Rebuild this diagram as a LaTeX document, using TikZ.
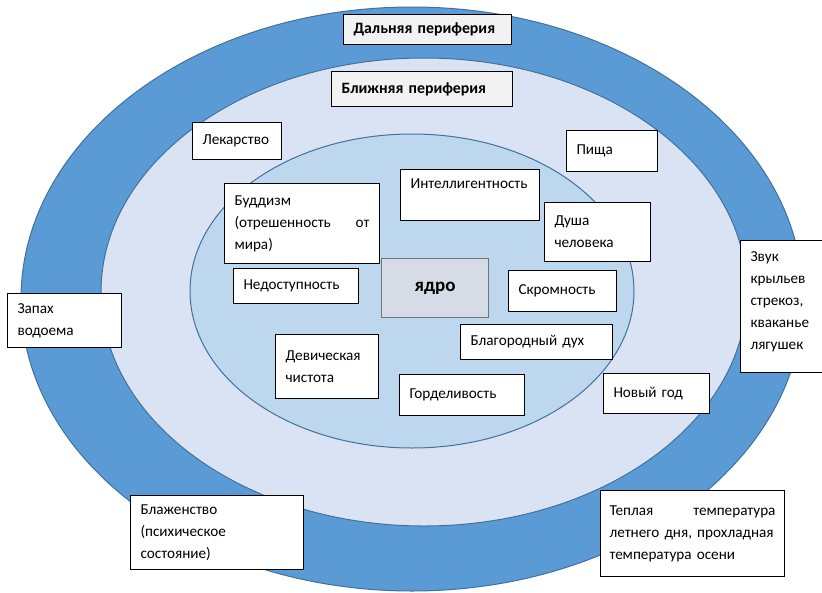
\documentclass[tikz,border=0pt]{standalone}
\usepackage{fontspec}
\setmainfont{Carlito}
\definecolor{farBlue}{HTML}{5B9BD5}
\definecolor{nearBlue}{HTML}{DAE3F3}
\definecolor{coreBlue}{HTML}{BDD7EE}
\definecolor{rimBlue}{HTML}{41719C}
\definecolor{titleGray}{HTML}{F2F2F2}
\definecolor{kernelGray}{HTML}{D6DCE5}
\tikzset{Zone/.style={%
    draw=rimBlue,%
    line width=1pt,%
}}
\tikzset{Term/.style={%
    shape=rectangle,%
    draw=black,%
    fill=white,%
    line width=1pt,%
    inner xsep=10pt,%
    inner ysep=0pt,%
    anchor=north west,%
    align=left,%
    font=\fontsize{15.2}{22}\selectfont,%
}}
\tikzset{Title/.style={%
    Term,%
    fill=titleGray,%
    font=\fontsize{15.8}{22}\selectfont\bfseries,%
}}
\tikzset{Core/.style={%
    Term,%
    draw=black!55,%
    fill=kernelGray,%
    align=center,%
    font=\fontsize{19}{22}\selectfont\bfseries,%
}}

\begin{document}
\begin{tikzpicture}[x=1pt, y=-1pt]
    \useasboundingbox (0,0) rectangle (822,592);

    % three zones
    \draw[Zone, fill=farBlue] (412,299) ellipse [x radius=391pt, y radius=292pt];
    \draw[Zone, fill=nearBlue] (424,292) ellipse [x radius=323pt, y radius=234pt];
    \draw[Zone, fill=coreBlue] (412,291) ellipse [x radius=222pt, y radius=157pt];

    % zone titles
    \node[Title, text width=148pt, minimum height=30pt] (farTitle) at (343,14) {Дальняя периферия};
    \node[Title, text width=161pt, minimum height=35pt] (nearTitle) at (331,71) {Ближняя периферия};

    % core
    \node[Core, text width=87pt, minimum height=59pt] (core) at (381,258) {ядро};
    \node[Term, text width=119pt, minimum height=51pt, text depth=22pt] (intellect) at (400,169) {Интеллигентность};
    \node[Term, text width=135pt, minimum height=80pt] (buddhism) at (224,183) {Буддизм\\(отрешенность\hfill от\\мира)};
    \node[Term, text width=86pt, minimum height=59pt] (soul) at (544,202) {Душа\\человека};
    \node[Term, text width=105pt, minimum height=35pt] (remote) at (233,268) {Недоступность};
    \node[Term, text width=88pt, minimum height=41pt] (modesty) at (508,270) {Скромность};
    \node[Term, text width=132pt, minimum height=35pt] (noble) at (460,324) {Благородный дух};
    \node[Term, text width=83pt, minimum height=64pt] (purity) at (275,334) {Девическая\\чистота};
    \node[Term, text width=105pt, minimum height=41pt] (pride) at (399,374) {Горделивость};

    % near periphery
    \node[Term, text width=69pt, minimum height=37pt] (medicine) at (192,122) {Лекарство};
    \node[Term, text width=71pt, minimum height=41pt] (food) at (566,130) {Пища};
    \node[Term, text width=86pt, minimum height=40pt] (newYear) at (603,373) {Новый год};

    % far periphery
    \node[Term, text width=94pt, minimum height=54pt] (pondSmell) at (7,293) {Запах\\водоема};
    \node[Term, text width=80pt, minimum height=132pt, text depth=100pt] (frogSound) at (740,240) {Звук\\крыльев\\стрекоз,\\кваканье\\лягушек};
    \node[Term, text width=153pt, minimum height=74pt] (bliss) at (130,495) {Блаженство\\(психическое\\состояние)};
    \node[Term, inner xsep=9pt, text width=166pt, minimum height=86pt] (warmth) at (600,490) {Теплая\hfill температура\\летнего дня, прохладная\\температура осени};
\end{tikzpicture}
\end{document}
